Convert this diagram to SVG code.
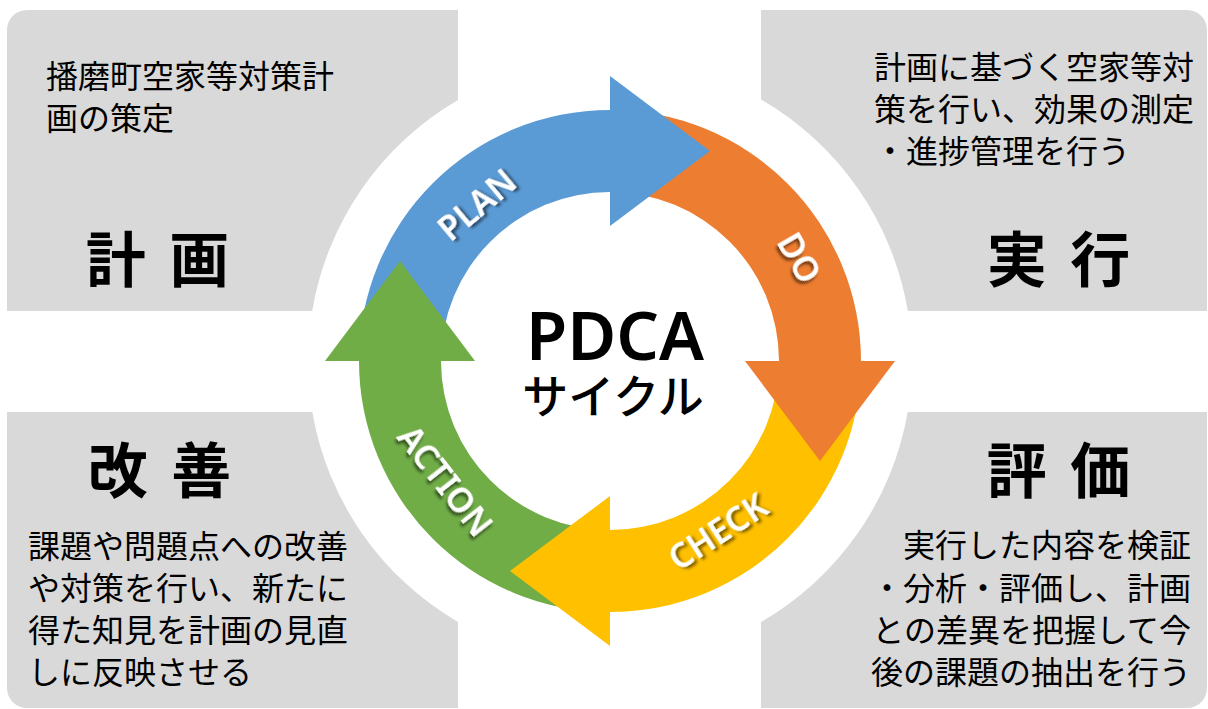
<svg xmlns="http://www.w3.org/2000/svg" width="1208" height="709" viewBox="0 0 1208 709">
  <defs>
    <style>
      .box { fill: #D9D9D9; }
      .body { font-family: "Noto Sans CJK JP", "Noto Sans", sans-serif; font-size: 32px; fill: #000; }
      .title { font-family: "Noto Sans CJK JP", "Noto Sans", sans-serif; font-size: 60px; font-weight: 700; fill: #000; letter-spacing: 5px; }
      .lbl { font-family: "Noto Sans", "Open Sans", sans-serif; font-size: 34px; font-weight: 600; fill: #FFFFFF; filter: url(#shadow); }
    </style>
    <filter id="shadow" x="-30%" y="-60%" width="160%" height="220%">
      <feDropShadow dx="2" dy="3" stdDeviation="1.5" flood-color="#000000" flood-opacity="0.55"/>
    </filter>
  </defs>
  <rect width="1208" height="709" fill="#FFFFFF"/>

  <g id="plan-box">
    <path class="box" d="M 27 10 L 458 10 L 458 100 A 302 302 0 0 0 312.2 311 L 7 311 L 7 30 A 20 20 0 0 1 27 10 Z"/>
    <text class="body" x="46" y="88">播磨町空家等対策計</text>
    <text class="body" x="46" y="130">画の策定</text>
    <text class="title" x="160" y="282" text-anchor="middle" xml:space="preserve">計 画</text>
  </g>

  <g id="do-box">
    <path class="box" d="M 761 99.5 L 761 10 L 1187 10 A 20 20 0 0 1 1207 30 L 1207 311 L 907.8 311 A 302 302 0 0 0 761 99.5 Z"/>
    <text class="body" x="874" y="79">計画に基づく空家等対</text>
    <text class="body" x="874" y="121">策を行い、効果の測定</text>
    <text class="body" x="874" y="163">・進捗管理を行う</text>
    <text class="title" x="1061" y="282" text-anchor="middle" xml:space="preserve">実 行</text>
  </g>

  <g id="action-box">
    <path class="box" d="M 7 412 L 312.3 412 A 302 302 0 0 0 458 622 L 458 708 L 27 708 A 20 20 0 0 1 7 688 Z"/>
    <text class="title" x="162" y="493" text-anchor="middle" xml:space="preserve">改 善</text>
    <text class="body" x="28" y="558">課題や問題点への改善</text>
    <text class="body" x="28" y="600">や対策を行い、新たに</text>
    <text class="body" x="28" y="642">得た知見を計画の見直</text>
    <text class="body" x="28" y="684">しに反映させる</text>
  </g>

  <g id="check-box">
    <path class="box" d="M 907.7 412 L 1207 412 L 1207 688 A 20 20 0 0 1 1187 708 L 761 708 L 761 622 A 302 302 0 0 0 907.7 412 Z"/>
    <text class="title" x="1061" y="493" text-anchor="middle" xml:space="preserve">評 価</text>
    <text class="body" x="1191" y="557" text-anchor="end">実行した内容を検証</text>
    <text class="body" x="1191" y="600" text-anchor="end">・分析・評価し、計画</text>
    <text class="body" x="1191" y="642" text-anchor="end">との差異を把握して今</text>
    <text class="body" x="1191" y="684" text-anchor="end">後の課題の抽出を行う</text>
  </g>

  <g id="connectors">
    <path id="plan-body" fill="#5B9BD5" d="M 359 361 A 251 251 0 0 1 610 110 L 610 192 A 169 169 0 0 0 441 361 Z"/>
    <path id="do-body" fill="#ED7D31" d="M 610 110 A 251 251 0 0 1 861 361 L 779 361 A 169 169 0 0 0 610 192 Z"/>
    <path id="check-body" fill="#FFC000" d="M 861 361 A 251 251 0 0 1 610 612 L 610 530 A 169 169 0 0 0 779 361 Z"/>
    <path id="action-body" fill="#70AD47" d="M 610 612 A 251 251 0 0 1 359 361 L 441 361 A 169 169 0 0 0 610 530 Z"/>
    <path id="plan-head" fill="#5B9BD5" d="M 610 76 L 710 151 L 610 226 Z"/>
    <path id="do-head" fill="#ED7D31" d="M 745 361 L 895 361 L 820 461 Z"/>
    <path id="check-head" fill="#FFC000" d="M 610 496 L 610 646 L 510 571 Z"/>
    <path id="action-head" fill="#70AD47" d="M 325 361 L 400 261 L 475 361 Z"/>
  </g>

  <g id="plan-label">
    <text class="lbl" transform="translate(477 205) rotate(-40)" x="0" y="12" text-anchor="middle">PLAN</text>
  </g>
  <g id="do-label">
    <text class="lbl" transform="translate(799 258) rotate(60)" x="0" y="12" text-anchor="middle">DO</text>
  </g>
  <g id="check-label">
    <text class="lbl" transform="translate(718 532) rotate(-33)" x="0" y="12" text-anchor="middle">CHECK</text>
  </g>
  <g id="action-label">
    <text class="lbl" transform="translate(445 481) rotate(52)" x="0" y="12" text-anchor="middle">ACTION</text>
  </g>

  <g id="center">
    <text x="615" y="360" text-anchor="middle" font-family="Noto Sans, sans-serif" font-size="67" font-weight="600" fill="#000">PDCA</text>
    <text x="613" y="413" text-anchor="middle" font-family="Noto Sans CJK JP, sans-serif" font-size="46" font-weight="500" fill="#000">サイクル</text>
  </g>
</svg>
